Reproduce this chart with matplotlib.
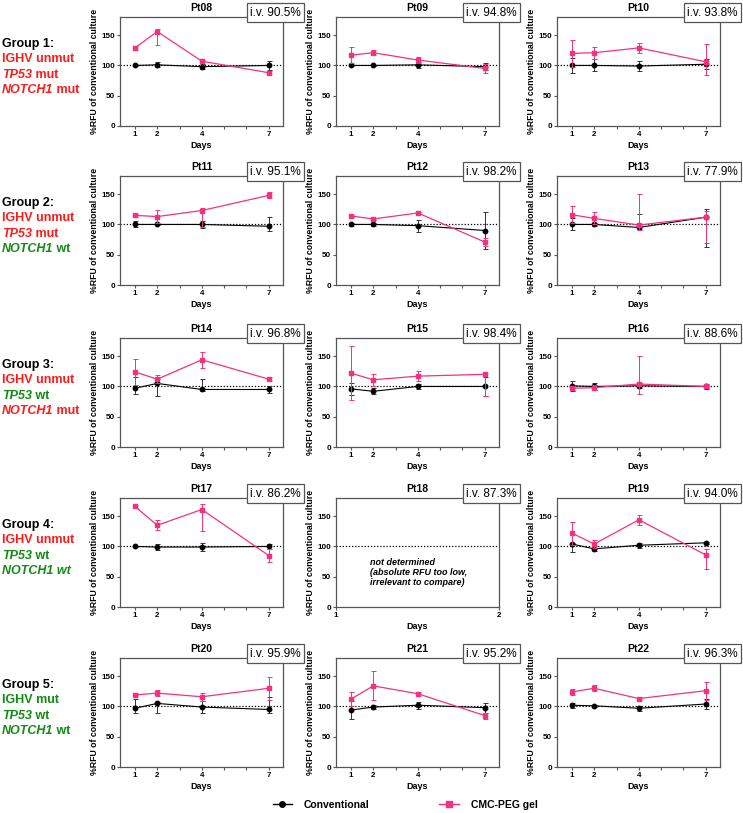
import numpy as np
import matplotlib
matplotlib.use("Agg")
import matplotlib.pyplot as plt
from matplotlib.lines import Line2D

plt.rcParams['font.family'] = ['Liberation Sans', 'DejaVu Sans']

# ---- data ----
days = [1, 2, 4, 7]
patients = [["Pt08", "Pt09", "Pt10"],
            ["Pt11", "Pt12", "Pt13"],
            ["Pt14", "Pt15", "Pt16"],
            ["Pt17", "Pt18", "Pt19"],
            ["Pt20", "Pt21", "Pt22"]]
iv = {"Pt08": 90.5, "Pt09": 94.8, "Pt10": 93.8, "Pt11": 95.1, "Pt12": 98.2,
      "Pt13": 77.9, "Pt14": 96.8, "Pt15": 98.4, "Pt16": 88.6, "Pt17": 86.2,
      "Pt18": 87.3, "Pt19": 94.0, "Pt20": 95.9, "Pt21": 95.2, "Pt22": 96.3}

conv_mean = {
    "Pt08": [100, 101, 98, 100], "Pt09": [100, 100, 101, 98], "Pt10": [100, 100, 99, 102],
    "Pt11": [100, 100, 100, 97], "Pt12": [100, 100, 98, 90], "Pt13": [100, 100, 95, 112],
    "Pt14": [97, 105, 95, 95], "Pt15": [96, 92, 100, 100], "Pt16": [101, 100, 101, 100],
    "Pt17": [100, 99, 99, 100], "Pt18": None, "Pt19": [104, 96, 102, 106],
    "Pt20": [97, 105, 99, 95], "Pt21": [94, 99, 102, 98], "Pt22": [102, 101, 97, 104],
}
# error: a number (symmetric) or (lower, upper)
conv_err = {
    "Pt08": [1, 4, 4, 7], "Pt09": [1, 1, 5, 6], "Pt10": [12, 10, 9, 8],
    "Pt11": [5, 1, 6, (8, 16)], "Pt12": [3, 2, 10, 31], "Pt13": [(9, 10), 2, (3, 22), (50, 13)],
    "Pt14": [(10, 19), (21, 8), (2, 18), 6], "Pt15": [10, 5, 4, 15], "Pt16": [8, 6, 4, 4],
    "Pt17": [1, 5, 6, 4], "Pt18": None, "Pt19": [(13, 2), 4, 4, 2],
    "Pt20": [(8, 16), (16, 2), 10, (5, 20)], "Pt21": [15, 4, 6, 8], "Pt22": [4, 2, 4, 8],
}
cmc_mean = {
    "Pt08": [129, 156, 107, 88], "Pt09": [117, 121, 109, 95], "Pt10": [120, 121, 129, 106],
    "Pt11": [115, 113, 123, 148], "Pt12": [114, 109, 119, 71], "Pt13": [116, 110, 99, 112],
    "Pt14": [124, 112, 144, 112], "Pt15": [122, 111, 117, 120], "Pt16": [97, 98, 104, 100],
    "Pt17": [166, 135, 161, 85], "Pt18": None, "Pt19": [122, 104, 144, 86],
    "Pt20": [119, 122, 116, 130], "Pt21": [112, 134, 121, 85], "Pt22": [124, 130, 113, 126],
}
cmc_err = {
    "Pt08": [3, (22, 4), 2, 2], "Pt09": [13, 4, 5, 8], "Pt10": [22, 10, 8, (21, 29)],
    "Pt11": [2, 11, (28, 4), 5], "Pt12": [2, 2, 2, 6], "Pt13": [14, 10, (8, 51), (42, 10)],
    "Pt14": [21, 7, 13, 3], "Pt15": [45, 10, 8, (35, 3)], "Pt16": [3, 4, (16, 46), 3],
    "Pt17": [2, 8, (35, 9), 11], "Pt18": None, "Pt19": [19, 6, 8, (24, 10)],
    "Pt20": [4, 5, 7, 19], "Pt21": [12, 24, 3, 5], "Pt22": [5, 5, 3, 15],
}

# group labels: each line is a list of (text, colour, italic) pieces
R, G, K = "#ff1a1a", "#148a14", "black"
group_lines = [
    [[("Group 1:", K, False)], [("IGHV unmut", R, False)],
     [("TP53", R, True), (" mut", R, False)], [("NOTCH1", R, True), (" mut", R, False)]],
    [[("Group 2:", K, False)], [("IGHV unmut", R, False)],
     [("TP53", R, True), (" mut", R, False)], [("NOTCH1", G, True), (" wt", G, False)]],
    [[("Group 3:", K, False)], [("IGHV unmut", R, False)],
     [("TP53", G, True), (" wt", G, False)], [("NOTCH1", R, True), (" mut", R, False)]],
    [[("Group 4:", K, False)], [("IGHV unmut", R, False)],
     [("TP53", G, True), (" wt", G, False)], [("NOTCH1 wt", G, True)]],
    [[("Group 5:", K, False)], [("IGHV mut", G, False)],
     [("TP53", G, True), (" wt", G, False)], [("NOTCH1", G, True), (" wt", G, False)]],
]

PINK = "#f5317f"
FRAME = "#555555"


def to_yerr(err):
    lo = [e[0] if isinstance(e, tuple) else e for e in err]
    hi = [e[1] if isinstance(e, tuple) else e for e in err]
    return np.array([lo, hi])


W, H = 743, 813
fig = plt.figure(figsize=(W / 100, H / 100), dpi=100)
renderer = fig.canvas.get_renderer()

row_tops = [17, 176, 338, 498, 658]
col_lefts = [120, 336, 557]
ax_w, ax_h = 163, 109

for r, row in enumerate(patients):
    top = row_tops[r]

    # group label on the left, pieces placed one after another
    center = top + ax_h / 2
    for i, pieces in enumerate(group_lines[r]):
        y = 1 - (center - 28 + i * 15.3 + 3.5) / H
        x = 2 / W
        for txt, col, it in pieces:
            t = fig.text(x, y, txt, color=col, fontsize=9, fontweight="bold",
                         fontstyle="italic" if it else "normal", ha="left", va="baseline")
            x = t.get_window_extent(renderer).x1 / W

    for c, pt in enumerate(row):
        left = col_lefts[c]
        ax = fig.add_axes([left / W, 1 - (top + ax_h) / H, ax_w / W, ax_h / H])
        ax.set_ylim(0, 180)
        ax.set_yticks([0, 50, 100, 150])
        ax.axhline(100, color="black", linestyle=(0, (1, 1.5)), linewidth=0.9, zorder=1)

        if conv_mean[pt] is None:
            ax.set_xlim(1, 2)
            ax.set_xticks([1, 2])
            ax.text(1.21, 57, "not determined\n(absolute RFU too low,\nirrelevant to compare)",
                    fontsize=6.5, fontweight="bold", fontstyle="italic",
                    ha="left", va="center", linespacing=1.15)
        else:
            ax.set_xlim(0.33, 7.64)
            ax.set_xticks([1, 2, 3, 4, 5, 6, 7])
            ax.set_xticklabels(["1", "2", "", "4", "", "", "7"])
            ax.errorbar(days, conv_mean[pt], yerr=to_yerr(conv_err[pt]), color="black",
                        ecolor="#333333", linewidth=0.8, elinewidth=0.7, capsize=1.8,
                        capthick=0.7, marker="o", markersize=3.2, zorder=3)
            ax.errorbar(days, cmc_mean[pt], yerr=to_yerr(cmc_err[pt]), color=PINK,
                        ecolor=PINK, linewidth=0.9, elinewidth=0.7, capsize=1.8,
                        capthick=0.7, marker="s", markersize=3.4, zorder=4)

        for s in ax.spines.values():
            s.set_color(FRAME)
            s.set_linewidth(0.9)
        ax.tick_params(axis="both", direction="out", length=2.2, width=0.8,
                       labelsize=5.8, pad=1.2, color=FRAME)
        for lab in ax.get_xticklabels() + ax.get_yticklabels():
            lab.set_fontweight("bold")

        ax.set_title(pt, fontsize=7.5, fontweight="bold", pad=4)
        ax.set_xlabel("Days", fontsize=6.5, fontweight="bold", labelpad=2)
        ax.set_ylabel("%RFU of conventional culture", fontsize=6.3, fontweight="bold",
                      labelpad=1.5)
        ax.text(1.11, 1.04, "i.v. %.1f%%" % iv[pt], transform=ax.transAxes,
                fontsize=8.5, ha="right", va="center",
                bbox=dict(boxstyle="square,pad=0.3", facecolor="white",
                          edgecolor=FRAME, linewidth=0.9), zorder=10, clip_on=False)

handles = [
    Line2D([], [], color="black", marker="o", markersize=4, linewidth=1),
    Line2D([], [], color=PINK, marker="s", markersize=4, linewidth=1),
]
fig.legend(handles, ["Conventional", "CMC-PEG gel"], loc="center",
           bbox_to_anchor=(405 / W, 1 - 805 / H), ncol=2, frameon=False,
           prop={"size": 7.5, "weight": "bold"}, columnspacing=6.7, handlelength=1.9,
           handletextpad=1.1)

fig.savefig("out.png", dpi=100)
